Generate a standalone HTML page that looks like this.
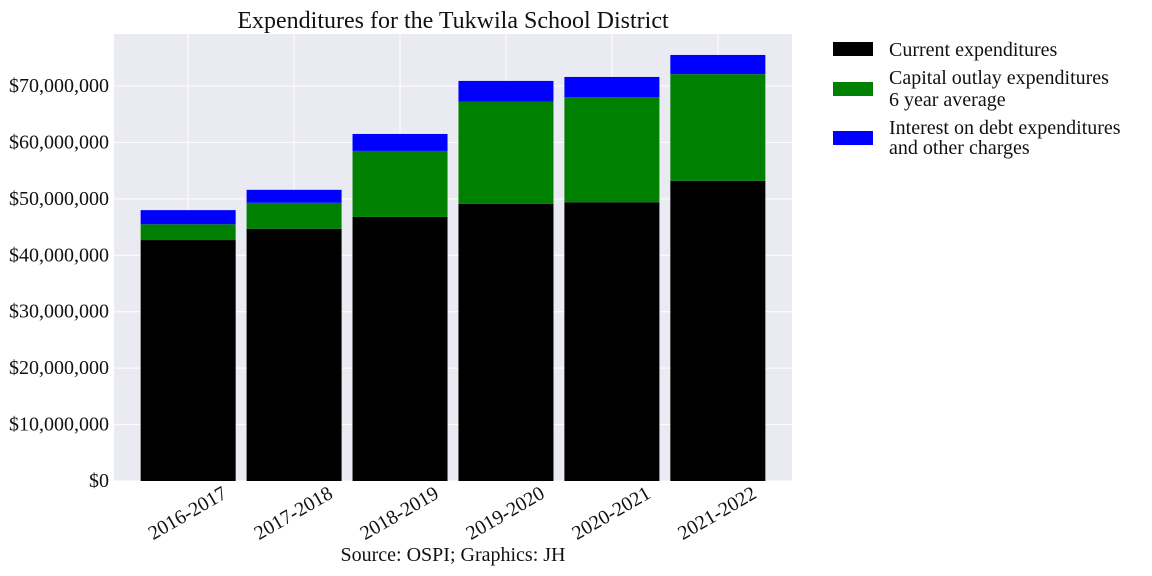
<!DOCTYPE html>
<html><head><meta charset="utf-8"><style>
body{margin:0;background:#fff}
svg{display:block;font-family:"Liberation Serif",serif}
</style></head><body>
<svg id="chart" width="1152" height="576">
<rect x="114" y="34" width="678" height="447" fill="#EAEAF2"/>
<g id="grid"></g><g id="bars"></g><g id="axes"></g>
<text x="453" y="28" text-anchor="middle" font-size="24" fill="#111">Expenditures for the Tukwila School District</text>
<text x="453" y="561" text-anchor="middle" font-size="20" fill="#111">Source: OSPI; Graphics: JH</text>
<g font-size="20" fill="#111">
<g><rect x="833" y="42" width="40" height="14" fill="#000"/><text x="889" y="56">Current expenditures</text></g>
<g><rect x="833" y="82" width="40" height="14" fill="#008000"/><text x="889" y="84">Capital outlay expenditures</text><text x="889" y="106">6 year average</text></g>
<g><rect x="833" y="131" width="40" height="14" fill="#0000FF"/><text x="889" y="134">Interest on debt expenditures</text><text x="889" y="154">and other charges</text></g>
</g>
</svg>
<script>
const categories=["2016-2017","2017-2018","2018-2019","2019-2020","2020-2021","2021-2022"];
const current=[42.7,44.7,46.8,49.1,49.4,53.2];
const capital=[2.8,4.6,11.7,18.1,18.6,18.9];
const interest=[2.5,2.3,3.0,3.7,3.6,3.4];
const yTicks=[0,10,20,30,40,50,60,70];
const NS="http://www.w3.org/2000/svg";
const L=114,R=792,T=34,B=481;
const y=v=>B-v*(B-86)/70;
const step=(R-L)/6.4, x0=L+step*0.7;
const xc=i=>x0+i*step;
const bw=95;
function mk(tag,a,p){const e=document.createElementNS(NS,tag);for(const k in a)e.setAttribute(k,a[k]);p.appendChild(e);return e;}
const grid=document.getElementById('grid'),bars=document.getElementById('bars'),axes=document.getElementById('axes');
yTicks.forEach(t=>{
 const l=mk('line',{x1:L,x2:R,y1:y(t),y2:y(t),stroke:'#fff','stroke-width':1},grid);
 
 
 const tx=mk('text',{x:L-5,y:y(t)+6,'text-anchor':'end','font-size':20,fill:'#111'},axes);
 tx.textContent='$'+(t*1000000).toLocaleString('en-US');
 
 
});
categories.forEach((c,i)=>{
 const g=mk('line',{x1:xc(i),x2:xc(i),y1:T,y2:B,stroke:'#fff','stroke-width':1},grid);
 
 
 let base=0;
 [[current,'#000','current'],[capital,'#008000','capital'],[interest,'#0000FF','interest']].forEach(([arr,col,nm])=>{
  const v=arr[i];
  const r=mk('rect',{x:xc(i)-bw/2,y:y(base+v),width:bw,height:y(base)-y(base+v),fill:col},bars);
  
  
  base+=v;
 });
 const ax=xc(i)+40, ay=B+16;
 const tx=mk('text',{x:ax,y:ay,'text-anchor':'end','font-size':20,fill:'#111',transform:`rotate(-30 ${ax} ${ay})`},axes);
 tx.textContent=c;
 
 
});
</script>
</body></html>
